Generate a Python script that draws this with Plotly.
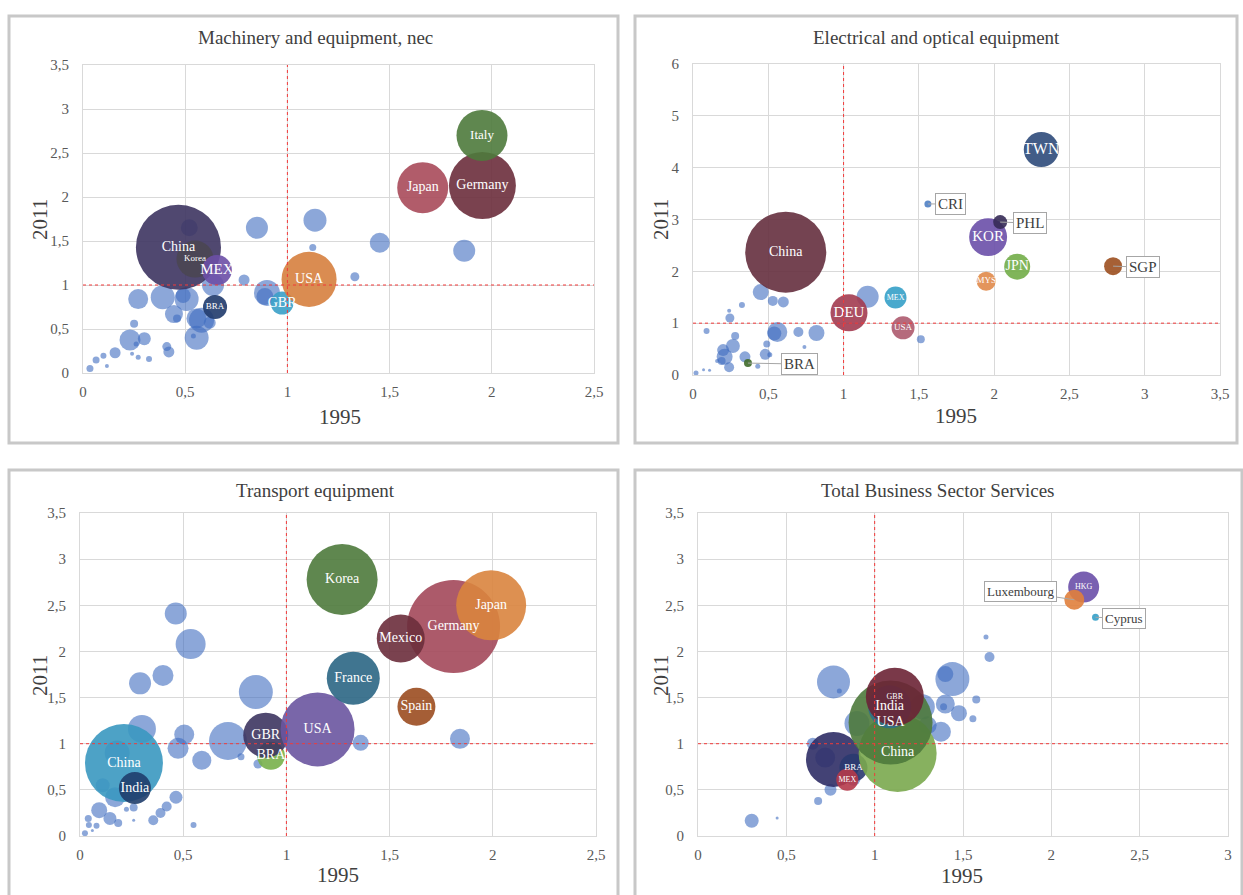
import plotly.graph_objects as go

W, H = 1243, 895
SERIF = "Liberation Serif, Times New Roman, serif"
BLUE = "rgba(62,108,192,0.85)"
SR = 0.02  # sizeref: bubble weight -> area

# ---------------- Panel 1: Machinery and equipment, nec ----------------
mach_title = "Machinery and equipment, nec"
mach_lab_names = ["China", "Korea", "MEX", "BRA", "GBR", "USA", "Japan", "Germany", "Italy"]
mach_lab_1995 = [0.467, 0.548, 0.655, 0.646, 0.974, 1.106, 1.662, 1.954, 1.952]
mach_lab_2011 = [1.43, 1.295, 1.17, 0.75, 0.795, 1.064, 2.106, 2.13, 2.70]
mach_lab_weight = [72.3, 13.7, 9.0, 5.8, 5.3, 30.3, 26.0, 44.9, 26.0]
mach_lab_colors = ["#3d3461", "#4a4652", "#6b4fa6", "#1f3a6b", "#3aa0c8", "#d6803e", "#a84a5a", "#6b2d3c", "#4e7a3c"]
mach_lab_fsize = [14, 9, 15, 9, 14, 14, 14, 14, 13]
mach_oth_1995 = [0.52, 0.851, 1.135, 1.124, 1.452, 1.865, 1.33, 0.788, 0.9, 0.89,
                 0.636, 0.27, 0.39, 0.507, 0.49, 0.445, 0.46, 0.58, 0.555, 0.62,
                 0.556, 0.54, 0.25, 0.23, 0.30, 0.26, 0.41, 0.42, 0.157, 0.10,
                 0.064, 0.034, 0.117, 0.27, 0.323, 0.24]
mach_oth_2011 = [1.65, 1.65, 1.736, 1.427, 1.48, 1.39, 1.094, 1.057, 0.91, 0.87,
                 1.0, 0.84, 0.86, 0.84, 0.88, 0.67, 0.62, 0.60, 0.62, 0.57,
                 0.40, 0.42, 0.56, 0.375, 0.39, 0.33, 0.30, 0.24, 0.23, 0.195,
                 0.148, 0.05, 0.08, 0.18, 0.16, 0.22]
mach_oth_weight = [2.89, 4.84, 5.29, 0.49, 4.0, 4.84, 0.81, 1.21, 6.76, 2.89,
                   4.84, 4.0, 5.76, 5.76, 2.25, 3.24, 0.64, 6.25, 4.0, 1.44,
                   5.76, 0.25, 0.64, 4.41, 1.69, 0.25, 0.81, 1.21, 1.21, 0.36,
                   0.49, 0.49, 0.16, 0.25, 0.36, 0.16]

# ---------------- Panel 2: Electrical and optical equipment ----------------
elec_title = "Electrical and optical equipment"
elec_lab_names = ["China", "DEU", "MEX", "USA", "TWN", "KOR", "JPN", "MYS", "PHL", "SGP", "BRA", "CRI"]
elec_lab_1995 = [0.616, 1.036, 1.345, 1.395, 2.313, 1.96, 2.153, 1.947, 2.04, 2.79, 0.365, 1.56]
elec_lab_2011 = [2.37, 1.2, 1.495, 0.91, 4.35, 2.66, 2.09, 1.81, 2.95, 2.10, 0.23, 3.3]
elec_lab_weight = [65.6, 13.7, 4.84, 5.29, 12.25, 14.4, 6.76, 3.61, 1.96, 3.24, 0.64, 0.49]
elec_lab_colors = ["#652f3e", "#a23b50", "#35a0c8", "#ad5a6e", "#2e4a7a", "#6a4fa8", "#72ad48", "#e08a4a",
                   "#352a55", "#9c4f1f", "#3f6b2a", "#4f7fc4"]
elec_lab_fsize = [14, 15, 8, 9, 16, 15, 14, 9, 15, 15, 15, 15]
elec_callouts = ["PHL", "SGP", "BRA", "CRI"]
elec_oth_1995 = [1.16, 1.513, 0.45, 0.53, 0.60, 0.325, 0.24, 0.245, 0.09, 0.28,
                 0.265, 0.2, 0.21, 0.19, 0.24, 0.16, 0.345, 0.56, 0.54, 0.49,
                 0.48, 0.51, 0.43, 0.70, 0.82, 0.74, 0.02, 0.07, 0.11]
elec_oth_2011 = [1.51, 0.69, 1.6, 1.43, 1.41, 1.35, 1.24, 1.1, 0.85, 0.75,
                 0.56, 0.48, 0.35, 0.27, 0.15, 0.27, 0.35, 0.83, 0.80, 0.6,
                 0.4, 0.39, 0.17, 0.83, 0.81, 0.54, 0.04, 0.10, 0.09]
elec_oth_weight = [4.84, 0.64, 2.56, 1.0, 1.21, 0.36, 0.16, 0.81, 0.36, 0.64,
                   1.96, 1.44, 2.56, 0.64, 1.0, 0.16, 1.21, 4.0, 1.96, 0.49,
                   1.21, 0.25, 0.25, 1.0, 2.56, 0.16, 0.25, 0.09, 0.09]

# ---------------- Panel 3: Transport equipment ----------------
tran_title = "Transport equipment"
tran_lab_names = ["China", "India", "BRA", "GBR", "USA", "Korea", "France", "Spain", "Germany", "Mexico", "Japan"]
tran_lab_1995 = [0.213, 0.266, 0.925, 0.9, 1.151, 1.27, 1.324, 1.63, 1.81, 1.554, 1.992]
tran_lab_2011 = [0.79, 0.52, 0.869, 1.093, 1.155, 2.78, 1.71, 1.40, 2.27, 2.14, 2.5]
tran_lab_weight = [60.8, 10.24, 7.84, 20.25, 54.8, 50.4, 28.1, 14.4, 86.5, 23.0, 49.0]
tran_lab_colors = ["#3a98c0", "#1f3d6b", "#78b04a", "#3d3560", "#6a55a0", "#4e7a3c", "#2b6684", "#9b4d20",
                   "#a3485a", "#6b2d3c", "#d9843e"]
tran_lab_fsize = [14, 14, 14, 14, 14, 14, 14, 14, 14, 14, 14]
tran_oth_1995 = [0.464, 0.536, 0.402, 0.291, 0.852, 0.30, 0.505, 0.475, 0.717, 0.59,
                 0.78, 0.862, 1.36, 1.841, 0.18, 0.11, 0.17, 0.465, 0.42, 0.39,
                 0.355, 0.26, 0.225, 0.093, 0.145, 0.185, 0.04, 0.043, 0.08, 0.024,
                 0.55, 0.26, 0.06]
tran_oth_2011 = [2.41, 2.08, 1.74, 1.654, 1.56, 1.16, 1.10, 0.95, 1.03, 0.82,
                 0.86, 0.78, 1.01, 1.053, 0.9, 0.55, 0.42, 0.42, 0.32, 0.25,
                 0.17, 0.31, 0.29, 0.28, 0.19, 0.14, 0.19, 0.12, 0.11, 0.03,
                 0.12, 0.17, 0.06]
tran_oth_weight = [4.84, 9.0, 4.41, 4.84, 11.56, 7.84, 4.0, 4.41, 14.44, 3.61,
                   0.49, 0.81, 2.56, 4.0, 6.25, 1.96, 4.0, 1.69, 1.0, 1.0,
                   1.0, 0.64, 0.25, 2.56, 1.69, 0.64, 0.49, 0.36, 0.36, 0.36,
                   0.36, 0.09, 0.09]

# ---------------- Panel 4: Total Business Sector Services ----------------
serv_title = "Total Business Sector Services"
serv_lab_names = ["", "BRA", "MEX", "China", "USA", "India", "GBR", "HKG", "Luxembourg", "Cyprus"]
serv_lab_1995 = [0.767, 0.88, 0.845, 1.13, 1.09, 1.085, 1.114, 2.183, 2.13, 2.25]
serv_lab_2011 = [0.83, 0.74, 0.61, 0.90, 1.23, 1.40, 1.51, 2.697, 2.56, 2.37]
serv_lab_weight = [30.25, 7.84, 4.84, 60.8, 70.6, 18.5, 33.6, 9.6, 4.0, 0.49]
serv_lab_colors = ["#2f2e66", "#2a3a70", "#b53a4a", "#7aa84e", "#4e7a3c", "#2d7088", "#6b2335",
                   "#6a4fa8", "#e07f3c", "#35a0c8"]
serv_lab_fsize = [9, 9, 8, 14, 14, 14, 8, 8, 13, 13]
serv_callouts = ["Luxembourg", "Cyprus"]
serv_oth_1995 = [0.767, 0.8, 0.9, 0.65, 0.75, 0.68, 1.44, 1.40, 1.65, 1.63,
                 1.575, 1.556, 1.477, 1.40, 1.39, 1.375, 1.27, 1.30, 0.304, 0.448,
                 0.88, 0.72]
serv_oth_2011 = [1.67, 1.57, 1.22, 1.0, 0.5, 0.38, 1.70, 1.755, 1.94, 2.155,
                 1.48, 1.27, 1.33, 1.43, 1.40, 1.13, 1.40, 1.2, 0.166, 0.195,
                 0.62, 0.85]
serv_oth_weight = [10.89, 0.25, 6.25, 1.44, 1.44, 0.64, 11.56, 2.56, 1.0, 0.25,
                   0.64, 0.49, 2.56, 3.61, 0.49, 4.0, 6.25, 3.24, 1.96, 0.09,
                   1.96, 4.0]

x_title = "1995"
y_title = "2011"


def px(v):
    return v / W


def py(v):
    return 1 - v / H


panels = [
    dict(k=1, title=mach_title, plot=(83, 594, 65, 373), frame=(9, 618, 16, 443),
         xr=2.5, yr=3.5, dty=0.5, title_xy=(315, 38), xt_xy=(340, 417), yt_xy=(40, 220),
         oth=(mach_oth_1995, mach_oth_2011, mach_oth_weight),
         lab=(mach_lab_names, mach_lab_1995, mach_lab_2011, mach_lab_weight, mach_lab_colors, mach_lab_fsize),
         callouts=[], offsets={}),
    dict(k=2, title=elec_title, plot=(693, 1220, 64, 375), frame=(635, 1237, 16, 443),
         xr=3.5, yr=6, dty=1, title_xy=(937, 38), xt_xy=(956, 416), yt_xy=(661, 220),
         oth=(elec_oth_1995, elec_oth_2011, elec_oth_weight),
         lab=(elec_lab_names, elec_lab_1995, elec_lab_2011, elec_lab_weight, elec_lab_colors, elec_lab_fsize),
         callouts=elec_callouts, offsets={"PHL": (30, 1), "SGP": (30, 1), "BRA": (52, 1), "CRI": (23, 0)}),
    dict(k=3, title=tran_title, plot=(80, 596, 513, 836), frame=(9, 618, 470, 900),
         xr=2.5, yr=3.5, dty=0.5, title_xy=(315, 490), xt_xy=(338, 875), yt_xy=(40, 676),
         oth=(tran_oth_1995, tran_oth_2011, tran_oth_weight),
         lab=(tran_lab_names, tran_lab_1995, tran_lab_2011, tran_lab_weight, tran_lab_colors, tran_lab_fsize),
         callouts=[], offsets={}),
    dict(k=4, title=serv_title, plot=(698, 1228, 513, 836), frame=(635, 1242, 470, 900),
         xr=3, yr=3.5, dty=0.5, title_xy=(938, 490), xt_xy=(962, 876), yt_xy=(661, 676),
         oth=(serv_oth_1995, serv_oth_2011, serv_oth_weight),
         lab=(serv_lab_names, serv_lab_1995, serv_lab_2011, serv_lab_weight, serv_lab_colors, serv_lab_fsize),
         callouts=serv_callouts, offsets={"Luxembourg": (-54, -8), "Cyprus": (28, 1)}),
]

fig = go.Figure()
shapes = []
annotations = []
layout_axes = {}

for p in panels:
    k = p["k"]
    xa = "x" if k == 1 else f"x{k}"
    ya = "y" if k == 1 else f"y{k}"
    x0, x1, yt, yb = p["plot"]

    ox, oy, ow = p["oth"]
    fig.add_trace(go.Scatter(
        x=ox, y=oy, mode="markers", xaxis=xa, yaxis=ya, hoverinfo="skip", showlegend=False,
        marker=dict(size=ow, sizemode="area", sizeref=SR, color=BLUE, line=dict(width=0))))

    names, lx, ly, lw, lc, lf = p["lab"]
    for i in range(len(names)):
        fig.add_trace(go.Scatter(
            x=[lx[i]], y=[ly[i]], mode="markers", xaxis=xa, yaxis=ya, hoverinfo="skip", showlegend=False,
            marker=dict(size=[lw[i]], sizemode="area", sizeref=SR, color=lc[i], opacity=0.9,
                        line=dict(width=0))))

    inner = [i for i in range(len(names)) if names[i] and names[i] not in p["callouts"]]
    fig.add_trace(go.Scatter(
        x=[lx[i] for i in inner], y=[ly[i] for i in inner], text=[names[i] for i in inner],
        mode="text", textposition="middle center", xaxis=xa, yaxis=ya, hoverinfo="skip", showlegend=False,
        textfont=dict(family=SERIF, color="white", size=[lf[i] for i in inner])))

    for i in range(len(names)):
        if names[i] in p["callouts"]:
            dx, dy = p["offsets"][names[i]]
            annotations.append(dict(
                x=lx[i], y=ly[i], xref=xa, yref=ya, text=names[i], showarrow=True,
                ax=dx, ay=dy, arrowhead=0, arrowwidth=1, arrowcolor="#a6a6a6",
                bordercolor="#a6a6a6", borderwidth=1, borderpad=2, bgcolor="white",
                font=dict(family=SERIF, size=lf[i], color="#404040")))

    axis_common = dict(showgrid=True, gridcolor="#d9d9d9", gridwidth=1, zeroline=False,
                       showline=True, linecolor="#d9d9d9", linewidth=1, mirror=True, ticks="",
                       automargin=False,
                       tickfont=dict(family=SERIF, size=15, color="#595959"), fixedrange=True)
    layout_axes["xaxis" if k == 1 else f"xaxis{k}"] = dict(
        domain=[px(x0), px(x1)], range=[0, p["xr"]], dtick=0.5, tick0=0,
        anchor=ya, ticklabelstandoff=5, **axis_common)
    layout_axes["yaxis" if k == 1 else f"yaxis{k}"] = dict(
        domain=[py(yb), py(yt)], range=[0, p["yr"]], dtick=p["dty"], tick0=0,
        anchor=xa, ticklabelstandoff=10, **axis_common)

    shapes.append(dict(type="line", xref=xa, yref=f"{ya} domain", x0=1, x1=1, y0=0, y1=1,
                       line=dict(color="#f23a3a", width=1, dash="dot"), layer="above"))
    shapes.append(dict(type="line", xref=f"{xa} domain", yref=ya, x0=0, x1=1, y0=1, y1=1,
                       line=dict(color="#f23a3a", width=1, dash="dot"), layer="above"))
    fx0, fx1, fy0, fy1 = p["frame"]
    shapes.append(dict(type="rect", xref="paper", yref="paper", x0=px(fx0), x1=px(fx1),
                       y0=py(fy1), y1=py(fy0), line=dict(color="#c8c8c8", width=3), layer="below"))

    tx, ty = p["title_xy"]
    annotations.append(dict(x=px(tx), y=py(ty), xref="paper", yref="paper", text=p["title"],
                            xanchor="center", yanchor="middle", showarrow=False,
                            font=dict(family=SERIF, size=19, color="#404040")))
    ax_, ay_ = p["xt_xy"]
    annotations.append(dict(x=px(ax_), y=py(ay_), xref="paper", yref="paper", text=x_title,
                            xanchor="center", yanchor="middle", showarrow=False,
                            font=dict(family=SERIF, size=21, color="#404040")))
    bx, by = p["yt_xy"]
    annotations.append(dict(x=px(bx), y=py(by), xref="paper", yref="paper", text=y_title,
                            xanchor="center", yanchor="middle", showarrow=False, textangle=-90,
                            font=dict(family=SERIF, size=21, color="#404040")))

fig.update_layout(
    width=W, height=H, autosize=False,
    margin=dict(l=0, r=0, t=0, b=0, pad=0, autoexpand=False),
    paper_bgcolor="white", plot_bgcolor="white",
    separators=",.",
    shapes=shapes, annotations=annotations, showlegend=False,
    **layout_axes)

post = (
    "document.documentElement.style.margin='0';"
    "document.documentElement.style.overflow='hidden';"
    "document.body.style.margin='0';"
    "document.body.style.overflow='hidden';"
    "var gd=document.getElementById('{plot_id}');"
    "gd.style.position='fixed';gd.style.left='0';gd.style.top='0';"
)

fig.write_html("out.html", config={"displayModeBar": False}, post_script=post)
